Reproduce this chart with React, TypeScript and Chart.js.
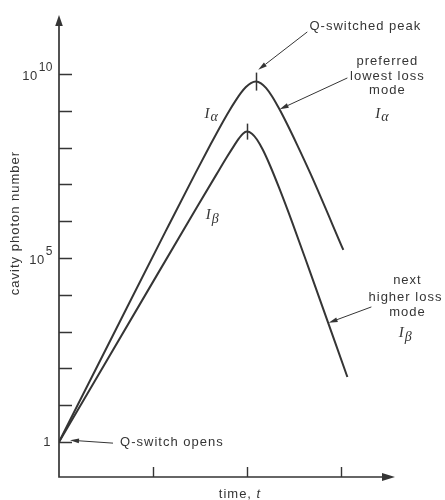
import React, { useEffect, useRef } from 'react';
import { Chart, registerables } from 'chart.js';

Chart.register(...registerables);

// Time axis (arbitrary units) and log10 of the cavity photon number.
const alphaTime = [0, 0.603, 1.135, 1.454, 1.614, 1.72, 1.805, 1.88, 1.933, 1.986, 2.039, 2.093, 2.146, 2.199, 2.263, 2.337, 2.422, 2.529, 2.678, 3.021];
const alphaLogN = [0, 3.052, 5.736, 7.326, 8.101, 8.601, 8.981, 9.288, 9.484, 9.644, 9.751, 9.791, 9.745, 9.62, 9.394, 9.065, 8.644, 8.079, 7.255, 5.217];
const betaTime = [0, 1.039, 1.465, 1.678, 1.784, 1.859, 1.912, 1.954, 1.997, 2.05, 2.103, 2.167, 2.241, 2.337, 2.476, 2.656, 3.064];
const betaLogN = [0, 4.527, 6.375, 7.291, 7.742, 8.046, 8.247, 8.375, 8.432, 8.375, 8.217, 7.932, 7.519, 6.916, 5.981, 4.704, 1.766];

// Axis extents and ticks.
const timeMax = 3.57;
const logMin = -0.95;
const logMax = 11.6;
const xTicks = [1, 2, 3];
const yTickExponents = [0, 1, 2, 3, 4, 5, 6, 7, 8, 9, 10];
const yLabelledExponents = [0, 5, 10];

// Text notes: [text, t, log10 N] (centre of the line of text).
const noteLines: [string, number, number][] = [
  ['Q-switched peak', 3.255, 11.3],
  ['preferred', 3.489, 10.33],
  ['lowest loss', 3.489, 9.92],
  ['mode', 3.489, 9.54],
  ['next', 3.702, 4.4],
  ['higher loss', 3.681, 3.94],
  ['mode', 3.702, 3.53],
];
// Mode symbols: [subscript, t, log10 N]
const modeSymbols: [string, number, number][] = [
  ['\u03b1', 1.617, 8.91],
  ['\u03b2', 1.628, 6.17],
  ['\u03b1', 3.43, 8.91],
  ['\u03b2', 3.68, 2.96],
];
// Pointer arrows: [fromT, fromLog, toT, toLog]
const pointers: [number, number, number, number][] = [
  [2.638, 11.14, 2.117, 10.11],
  [3.064, 9.89, 2.345, 9.04],
  [3.319, 3.67, 2.865, 3.24],
  [0.574, -0.03, 0.117, 0.05],
];
const openNote: [string, number, number] = ['Q-switch opens', 0.649, 0];

const INK = '#353535';
const SANS = '"Liberation Sans", Arial, sans-serif';
const SERIF = '"Liberation Serif", "DejaVu Serif", serif';

function toPoints(ts: number[], logs: number[]) {
  return ts.map((t, i) => ({ x: t, y: Math.pow(10, logs[i]) }));
}

const decor = {
  id: 'decor',
  afterDatasetsDraw(chart: any) {
    const { ctx, chartArea: a } = chart;
    const xs = chart.scales.x;
    const ys = chart.scales.y;
    const px = (t: number) => xs.getPixelForValue(t);
    const py = (e: number) => ys.getPixelForValue(Math.pow(10, e));
    ctx.save();
    ctx.strokeStyle = INK;
    ctx.fillStyle = INK;
    ctx.lineCap = 'butt';

    // axes
    ctx.lineWidth = 1.7;
    ctx.beginPath();
    ctx.moveTo(a.left, a.top + 8);
    ctx.lineTo(a.left, a.bottom);
    ctx.lineTo(a.right - 8, a.bottom);
    ctx.stroke();
    ctx.beginPath();
    ctx.moveTo(a.left, a.top);
    ctx.lineTo(a.left - 3.8, a.top + 11);
    ctx.lineTo(a.left + 3.8, a.top + 11);
    ctx.closePath();
    ctx.fill();
    ctx.beginPath();
    ctx.moveTo(a.right, a.bottom);
    ctx.lineTo(a.right - 13, a.bottom - 4);
    ctx.lineTo(a.right - 13, a.bottom + 4);
    ctx.closePath();
    ctx.fill();

    // ticks
    ctx.lineWidth = 1.4;
    ctx.beginPath();
    yTickExponents.forEach((e) => {
      const y = Math.round(py(e)) + 0.5;
      ctx.moveTo(a.left, y);
      ctx.lineTo(a.left + 13, y);
    });
    xTicks.forEach((t) => {
      const x = Math.round(px(t)) + 0.5;
      ctx.moveTo(x, a.bottom);
      ctx.lineTo(x, a.bottom - 10);
    });
    ctx.stroke();

    // tick labels
    ctx.textBaseline = 'middle';
    (ctx as any).letterSpacing = '0.5px';
    yLabelledExponents.forEach((e) => {
      const y = py(e);
      if (e === 0) {
        ctx.font = `13px ${SANS}`;
        ctx.textAlign = 'right';
        ctx.fillText('1', a.left - 8, y);
      } else {
        const exp = String(e);
        ctx.font = `12px ${SANS}`;
        const ew = ctx.measureText(exp).width;
        ctx.textAlign = 'left';
        const right = a.left - 6;
        ctx.fillText(exp, right - ew, y - 6);
        ctx.font = `13px ${SANS}`;
        ctx.textAlign = 'right';
        ctx.fillText('10', right - ew - 1, y + 2.5);
      }
    });

    // peak marks
    ctx.lineWidth = 1.5;
    const peakMark = (ts: number[], logs: number[], half: number) => {
      let k = 0;
      logs.forEach((v, i) => { if (v > logs[k]) k = i; });
      const x = Math.round(px(ts[k])) + 0.5;
      const y = py(logs[k]);
      ctx.beginPath();
      ctx.moveTo(x, y - half);
      ctx.lineTo(x, y + half);
      ctx.stroke();
    };
    peakMark(alphaTime, alphaLogN, 9);
    peakMark(betaTime, betaLogN, 8);

    // pointer arrows
    ctx.lineWidth = 1;
    pointers.forEach(([t0, e0, t1, e1]) => {
      const x0 = px(t0), y0 = py(e0), x1 = px(t1), y1 = py(e1);
      const ang = Math.atan2(y1 - y0, x1 - x0);
      const len = 9, hw = 2.4;
      const bx = x1 - len * Math.cos(ang), by = y1 - len * Math.sin(ang);
      ctx.beginPath();
      ctx.moveTo(x0, y0);
      ctx.lineTo(bx, by);
      ctx.stroke();
      ctx.beginPath();
      ctx.moveTo(x1, y1);
      ctx.lineTo(bx + hw * Math.sin(ang), by - hw * Math.cos(ang));
      ctx.lineTo(bx - hw * Math.sin(ang), by + hw * Math.cos(ang));
      ctx.closePath();
      ctx.fill();
    });

    // notes
    ctx.font = `13px ${SANS}`;
    (ctx as any).letterSpacing = '1px';
    ctx.textAlign = 'center';
    noteLines.forEach(([s, t, e]) => ctx.fillText(s, px(t), py(e)));
    ctx.textAlign = 'left';
    ctx.fillText(openNote[0], px(openNote[1]), py(openNote[2]));

    // mode symbols I_alpha, I_beta
    (ctx as any).letterSpacing = '0px';
    modeSymbols.forEach(([sub, t, e]) => {
      const cx = px(t), cy = py(e);
      ctx.font = `italic 15px ${SERIF}`;
      const iw = ctx.measureText('I').width;
      ctx.font = `italic 14px ${SERIF}`;
      const sw = ctx.measureText(sub).width;
      const left = cx - (iw + sw + 1) / 2;
      ctx.textAlign = 'left';
      ctx.font = `italic 15px ${SERIF}`;
      ctx.fillText('I', left, cy);
      ctx.font = `italic 14px ${SERIF}`;
      ctx.fillText(sub, left + iw + 1, cy + (sub === '\u03b2' ? 4 : 3));
    });

    // axis titles
    ctx.font = `13px ${SANS}`;
    (ctx as any).letterSpacing = '1px';
    ctx.textAlign = 'center';
    ctx.save();
    ctx.translate(15, (a.top + a.bottom) / 2 - 23);
    ctx.rotate(-Math.PI / 2);
    ctx.fillText('cavity photon number', 0, 0);
    ctx.restore();

    const title = 'time, ';
    ctx.font = `13px ${SANS}`;
    const tw = ctx.measureText(title).width;
    ctx.font = `italic 13px ${SANS}`;
    const iw2 = ctx.measureText('t').width;
    const tx = (a.left + a.right) / 2 + 13 - (tw + iw2) / 2;
    ctx.textAlign = 'left';
    ctx.font = `13px ${SANS}`;
    ctx.fillText(title, tx, a.bottom + 17);
    ctx.font = `italic 13px ${SANS}`;
    ctx.fillText('t', tx + tw, a.bottom + 17);

    ctx.restore();
  },
};

export default function App() {
  const ref = useRef<HTMLCanvasElement>(null);
  useEffect(() => {
    if (!ref.current) return;
    const line = {
      borderColor: INK,
      borderWidth: 2,
      pointRadius: 0,
      fill: false,
      cubicInterpolationMode: 'monotone' as const,
    };
    const chart = new Chart(ref.current, {
      type: 'line',
      data: {
        datasets: [
          { label: 'I\u03b1', data: toPoints(alphaTime, alphaLogN), ...line },
          { label: 'I\u03b2', data: toPoints(betaTime, betaLogN), ...line },
        ],
      },
      options: {
        responsive: false,
        animation: false,
        layout: { padding: { left: 59, right: 50, top: 15, bottom: 23 } },
        scales: {
          x: { type: 'linear', min: 0, max: timeMax, display: false },
          y: { type: 'logarithmic', min: Math.pow(10, logMin), max: Math.pow(10, logMax), display: false },
        },
        plugins: { legend: { display: false }, tooltip: { enabled: false } },
        events: [],
      },
      plugins: [decor],
    });
    return () => chart.destroy();
  }, []);
  return (
    <div style={{ position: 'absolute', left: 0, top: 0, width: 445, height: 500, background: '#fff' }}>
      <canvas ref={ref} width={445} height={500} style={{ width: 445, height: 500, display: 'block' }} />
    </div>
  );
}
